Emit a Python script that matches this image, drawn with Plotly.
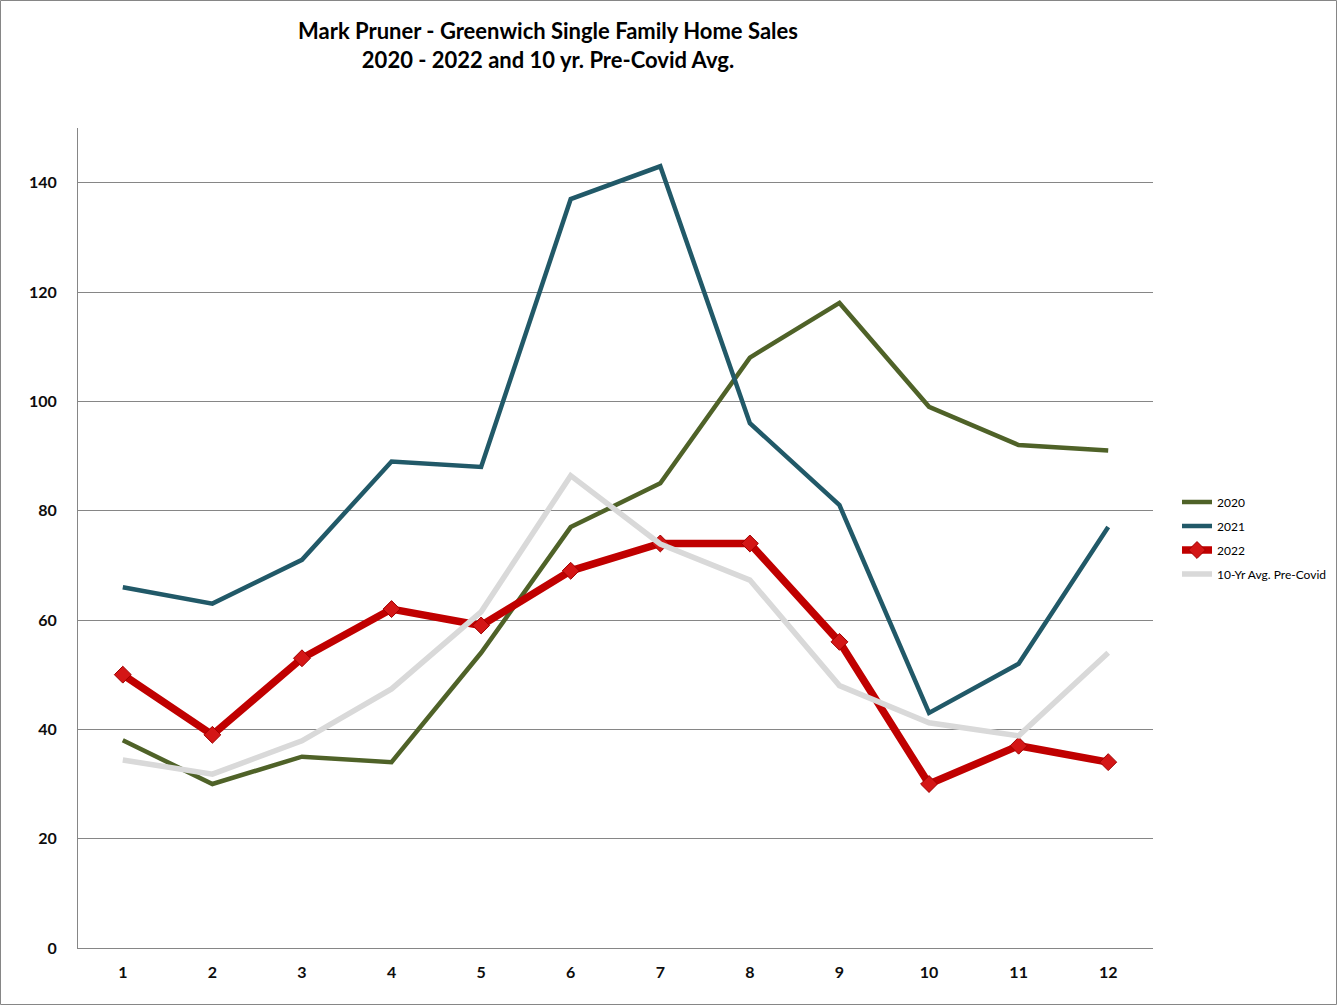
import plotly.graph_objects as go

months = [1, 2, 3, 4, 5, 6, 7, 8, 9, 10, 11, 12]
sales_2020 = [38, 30, 35, 34, 54, 77, 85, 108, 118, 99, 92, 91]
sales_2021 = [66, 63, 71, 89, 88, 137, 143, 96, 81, 43, 52, 77]
sales_2022 = [50, 39, 53, 62, 59, 69, 74, 74, 56, 30, 37, 34]
avg_precovid = [34.4, 31.8, 37.9, 47.4, 61.5, 86.4, 73.9, 67.3, 48, 41.2, 38.8, 54]
y_ticks = [0, 20, 40, 60, 80, 100, 120, 140]

W, H = 1338, 1006
L, R, T, B = 78, 185, 128, 58
pw, ph = W - L - R, H - T - B

fig = go.Figure()
fig.add_trace(go.Scatter(x=months, y=sales_2020, name="2020", mode="lines", legendgroup="a",
                         line=dict(color="#4F6228", width=4.5)))
fig.add_trace(go.Scatter(x=months, y=sales_2021, name="2021", mode="lines", legendgroup="b",
                         line=dict(color="#215968", width=4.5)))
fig.add_trace(go.Scatter(x=months, y=sales_2022, name="2022", mode="lines+markers", legendgroup="c",
                         line=dict(color="#C00000", width=7.5),
                         marker=dict(symbol="diamond", size=13, color="#D41616",
                                     line=dict(color="#A00000", width=1))))
fig.add_trace(go.Scatter(x=months, y=avg_precovid, name="10-Yr Avg. Pre-Covid", mode="lines",
                         legendgroup="d", line=dict(color="#D9D9D9", width=5.5)))

fig.update_layout(
    width=W, height=H,
    margin=dict(l=L, r=R, t=T, b=B, autoexpand=False),
    paper_bgcolor="white", plot_bgcolor="white",
    font=dict(family="Lato, Open Sans, sans-serif", color="#0D0D0D"),
    title=dict(text="<b>Mark Pruner - Greenwich Single Family Home Sales<br>2020 - 2022 and 10 yr. Pre-Covid Avg.</b>",
               x=548 / W, xanchor="center", y=1 - 39 / H, yanchor="middle",
               font=dict(size=22, color="black")),
    legend=dict(x=(1177 - L) / pw, xanchor="left", y=(948 - 538) / ph, yanchor="middle",
                font=dict(size=12, color="black"), itemwidth=30, tracegroupgap=5,
                bgcolor="rgba(0,0,0,0)"),
    showlegend=True,
    xaxis=dict(range=[0.5, 12.5], tickmode="array", tickvals=months,
               ticktext=[f"<b>{m}</b>" for m in months],
               showgrid=False, zeroline=False, showline=True, linecolor="#868686",
               linewidth=1, ticks="", ticklabelstandoff=10,
               tickfont=dict(size=16, color="#0D0D0D")),
    yaxis=dict(range=[0, 150], tickmode="array", tickvals=y_ticks,
               ticktext=[f"<b>{v}</b>" for v in y_ticks],
               showgrid=True, gridcolor="#868686", gridwidth=1, zeroline=False,
               showline=True, linecolor="#868686", linewidth=1, ticks="",
               ticklabelstandoff=17, tickfont=dict(size=16, color="#0D0D0D")),
    shapes=[dict(type="rect", xref="paper", yref="paper",
                 x0=-(L - 0.5) / pw, x1=1 + (R - 1.5) / pw,
                 y0=-(B - 1.5) / ph, y1=1 + (T - 0.5) / ph,
                 line=dict(color="#868686", width=1), layer="below")],
)

fig.write_html("out.html", config={"displayModeBar": False},
               post_script="document.body.style.margin='0';document.body.style.overflow='hidden';")
